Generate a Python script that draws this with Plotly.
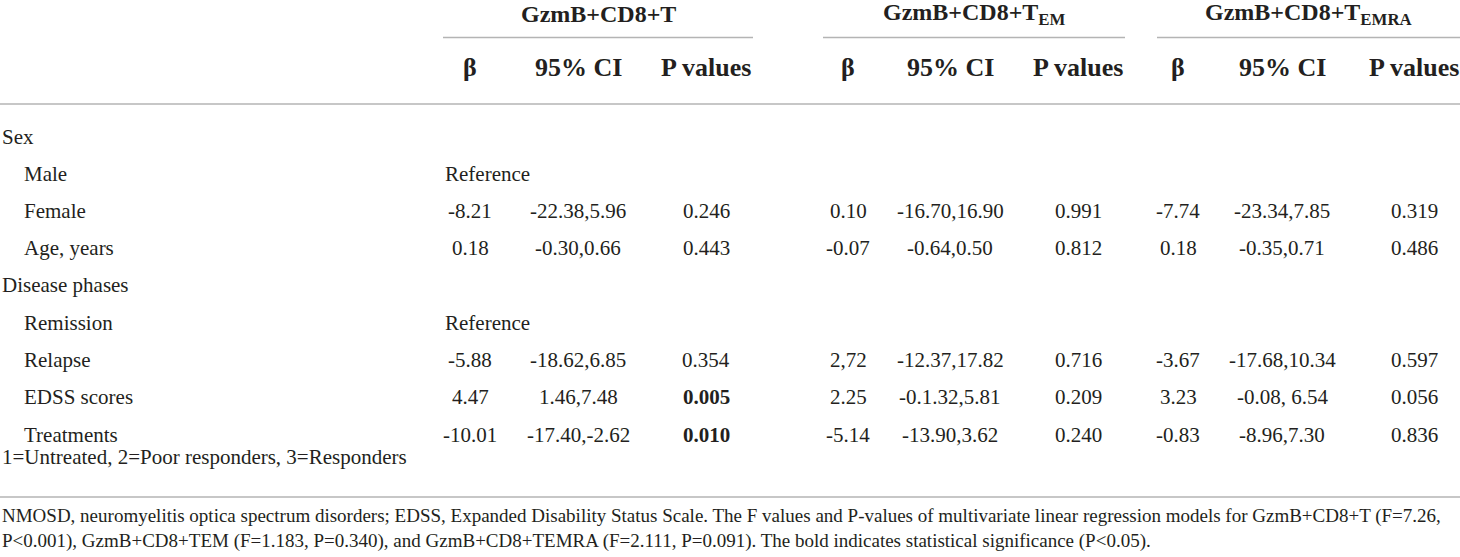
import plotly.graph_objects as go

# Table content
group_titles = ["GzmB+CD8+T", "GzmB+CD8+T<sub>EM</sub>", "GzmB+CD8+T<sub>EMRA</sub>"]
sub_headers = ["β", "95% CI", "P values"]
row_labels = ["Sex", "Male", "Female", "Age, years", "Disease phases",
              "Remission", "Relapse", "EDSS scores", "Treatments"]
row_indent = [0, 1, 1, 1, 0, 1, 1, 1, 1]

beta_t = ["", "Reference", "-8.21", "0.18", "", "Reference", "-5.88", "4.47", "-10.01"]
ci_t = ["", "", "-22.38,5.96", "-0.30,0.66", "", "", "-18.62,6.85", "1.46,7.48", "-17.40,-2.62"]
p_t = ["", "", "0.246", "0.443", "", "", "0.354", "0.005", "0.010"]

beta_tem = ["", "", "0.10", "-0.07", "", "", "2,72", "2.25", "-5.14"]
ci_tem = ["", "", "-16.70,16.90", "-0.64,0.50", "", "", "-12.37,17.82", "-0.1.32,5.81", "-13.90,3.62"]
p_tem = ["", "", "0.991", "0.812", "", "", "0.716", "0.209", "0.240"]

beta_temra = ["", "", "-7.74", "0.18", "", "", "-3.67", "3.23", "-0.83"]
ci_temra = ["", "", "-23.34,7.85", "-0.35,0.71", "", "", "-17.68,10.34", "-0.08, 6.54", "-8.96,7.30"]
p_temra = ["", "", "0.319", "0.486", "", "", "0.597", "0.056", "0.836"]

significant = ["0.005", "0.010"]

treatment_note = "1=Untreated, 2=Poor responders, 3=Responders"
footnote = [
    "NMOSD, neuromyelitis optica spectrum disorders; EDSS, Expanded Disability Status Scale. "
    "The F values and P-values of multivariate linear regression models for GzmB+CD8+T (F=7.26,",
    "P<0.001), GzmB+CD8+TEM (F=1.183, P=0.340), and GzmB+CD8+TEMRA (F=2.111, P=0.091). "
    "The bold indicates statistical significance (P<0.05).",
]

# Layout geometry (pixel space of the 1460x557 page)
W, H = 1460, 557
FONT = "Liberation Serif"
TXT = "#231f20"
LINE = "#b4b4b4"
group_spans = [(443, 753), (823, 1125), (1157, 1460)]
col_x = [[470, 578, 706], [848, 950, 1078], [1178, 1282, 1414]]
title_y, uline_y, head_y, rule_y = 14, 37.5, 67, 104
row_y = [137, 174, 211, 248, 285, 323, 360, 397, 435]
note_y, bottom_y, foot_y = 457, 497, [516, 541]
body_size, title_size, head_size, foot_size = 21, 24, 26, 19

fig = go.Figure()
fig.add_trace(go.Scatter(x=[0, W], y=[0, H], mode="markers",
                         marker=dict(opacity=0), hoverinfo="skip", showlegend=False))


def add_text(x, y, text, anchor="center", size=body_size, bold=False):
    fig.add_annotation(
        x=x, y=y, xref="x", yref="y", text=f"<b>{text}</b>" if bold else text,
        showarrow=False, xanchor=anchor, yanchor="middle",
        font=dict(family=FONT, size=size, color=TXT))


# Header
for (x0, x1), title, cols in zip(group_spans, group_titles, col_x):
    add_text((x0 + x1) / 2, title_y, title, size=title_size, bold=True)
    fig.add_shape(type="line", x0=x0, x1=x1, y0=uline_y, y1=uline_y,
                  xref="x", yref="y", line=dict(color=LINE, width=1.5))
    for cx, label in zip(cols, sub_headers):
        add_text(cx, head_y, label, size=head_size, bold=True)

for y in (rule_y, bottom_y):
    fig.add_shape(type="line", x0=0, x1=W, y0=y, y1=y, xref="x", yref="y",
                  line=dict(color=LINE, width=1.5))

# Body
series = [(beta_t, ci_t, p_t), (beta_tem, ci_tem, p_tem), (beta_temra, ci_temra, p_temra)]
for i, (label, ind, y) in enumerate(zip(row_labels, row_indent, row_y)):
    add_text(22 * ind, y, label, anchor="left")
    for g, (cols, vals) in enumerate(zip(col_x, series)):
        for cx, v in zip(cols, vals):
            val = v[i]
            if not val:
                continue
            if val == "Reference":
                add_text(group_spans[g][0], y, val, anchor="left")
            else:
                add_text(cx, y, val, bold=val in significant)

add_text(0, note_y, treatment_note, anchor="left")
for y, line in zip(foot_y, footnote):
    add_text(0, y, line, anchor="left", size=foot_size)

fig.update_xaxes(range=[0, W], visible=False, fixedrange=True)
fig.update_yaxes(range=[H, 0], visible=False, fixedrange=True)
fig.update_layout(width=W, height=H, margin=dict(l=0, r=0, t=0, b=0),
                  paper_bgcolor="white", plot_bgcolor="white")

# drop the browser's default 8px body margin so the table fills the window
fig.write_html("out.html", config={"displayModeBar": False},
               post_script="document.body.style.margin='0';")
